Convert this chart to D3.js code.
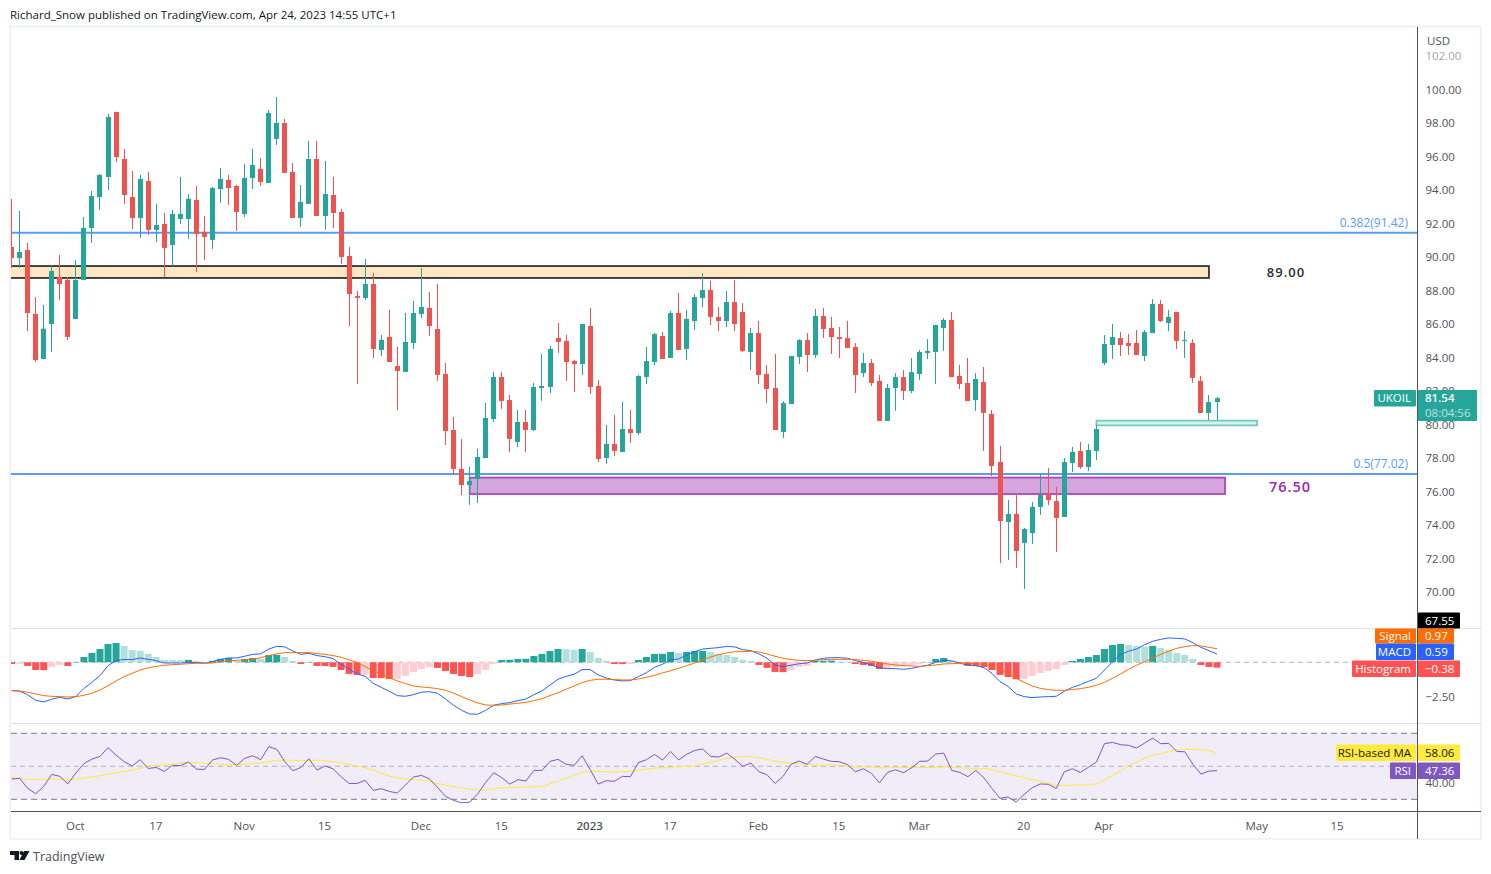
<!DOCTYPE html>
<html>
<head>
<meta charset="utf-8">
<script src="https://cdnjs.cloudflare.com/ajax/libs/d3/7.8.5/d3.min.js"></script>
<style>
  body { margin: 0; background: #fff; }
  text { font-family: "Open Sans", sans-serif; }
  .domain { display: none; }
</style>
</head>
<body>
<div id="chart"></div>
<script>
// daily candles
const opens = [90.57,89.91,90.39,86.57,83.88,85.97,88.78,88.60,86.27,88.60,91.70,93.55,94.75,98.63,95.82,93.55,92.30,94.51,91.59,91.94,
  90.69,92.24,92.24,93.38,91.47,90.99,94.03,94.57,94.21,92.54,94.69,95.23,94.39,97.02,97.97,95.05,92.30,93.14,95.82,92.42,
  93.67,92.66,90.03,87.64,87.52,88.36,84.42,85.20,83.46,83.11,84.84,86.57,86.93,85.67,82.99,79.64,77.32,76.36,76.72,77.97,
  80.30,82.81,81.43,78.93,80.12,79.64,82.15,82.21,85.14,84.96,83.76,83.58,85.85,82.27,77.97,78.81,78.33,79.70,79.46,82.81,
  83.70,85.26,83.94,86.63,84.48,86.15,87.52,88.00,86.39,86.15,87.28,86.69,84.30,85.43,82.98,82.15,79.52,81.19,84.00,85.01,
  84.12,86.45,85.73,85.19,85.13,84.60,83.04,83.64,82.57,80.18,82.15,82.80,81.97,82.98,84.24,84.30,85.73,86.21,82.87,82.45,
  81.43,82.51,80.60,77.73,74.15,74.63,72.90,73.49,75.05,75.82,75.40,74.45,77.67,78.39,77.43,78.39,83.64,84.72,85.13,84.84,
  84.84,84.06,85.43,87.16,86.03,86.69,84.96,84.84,82.57,80.66,81.31];
const highs = [93.44,92.72,90.81,87.58,87.11,89.44,90.09,88.78,89.79,92.36,93.91,94.93,98.51,98.63,96.42,95.11,94.87,95.05,93.14,92.60,
  92.78,94.75,93.73,94.21,92.42,94.15,95.29,94.87,94.27,95.53,96.42,95.88,98.75,99.52,98.21,95.58,94.27,96.90,96.90,95.70,
  94.75,92.84,90.57,87.94,89.85,89.02,85.32,86.81,84.60,86.63,87.35,89.32,87.88,88.36,83.64,80.42,79.11,77.44,78.51,81.26,
  83.11,83.11,81.73,80.84,80.84,82.45,84.18,84.66,86.03,85.32,83.82,85.97,86.93,82.63,79.94,80.54,81.32,80.84,82.93,84.60,
  85.43,85.49,86.75,87.82,86.81,87.76,89.01,88.54,86.98,87.94,88.60,87.22,85.73,86.15,83.52,84.18,81.37,84.06,85.07,85.43,
  86.87,86.92,86.39,85.79,86.15,84.83,84.24,83.88,82.92,82.39,83.04,83.22,83.94,84.42,85.07,85.91,86.33,86.69,83.52,83.94,
  83.04,83.40,80.84,78.69,75.46,75.88,73.79,75.34,77.07,77.37,76.24,77.97,78.63,78.93,78.81,79.94,85.31,85.97,85.49,85.37,
  85.61,85.61,87.46,87.40,86.81,86.69,85.55,85.07,82.87,81.73,81.61];
const lows = [89.32,89.32,85.55,83.70,83.88,84.30,87.41,85.02,86.27,88.60,90.81,92.78,93.97,95.64,93.14,91.64,91.11,91.29,90.87,88.78,
  89.44,91.94,91.05,89.08,89.79,90.45,93.20,93.08,91.53,92.36,94.03,94.21,94.39,96.66,94.99,92.30,91.76,93.14,92.42,91.59,
  91.70,89.55,85.85,82.39,87.40,83.94,84.06,83.70,80.84,83.11,84.48,86.33,85.26,82.57,78.75,76.96,75.76,75.17,75.29,77.97,
  80.12,80.90,78.33,78.63,78.33,79.58,81.38,81.85,84.24,82.57,81.91,82.93,81.79,77.73,77.61,78.09,78.33,78.87,79.34,82.39,
  83.52,83.88,83.94,84.42,83.82,85.61,86.98,85.91,85.55,85.79,85.55,84.30,83.22,82.39,81.25,79.64,79.16,81.19,83.58,83.10,
  83.94,85.13,84.18,83.94,84.54,81.85,82.80,82.27,80.18,80.18,80.78,81.43,81.85,82.63,83.88,82.39,84.36,82.80,82.09,81.37,
  80.78,78.39,76.90,71.70,71.88,71.40,70.15,72.84,74.57,75.16,72.36,74.45,77.13,77.31,77.19,77.85,83.52,83.88,84.06,84.12,
  84.12,83.76,85.43,86.09,85.55,84.48,83.94,82.45,80.66,80.24,80.24];
const closes = [89.91,90.27,86.63,83.82,85.69,89.14,88.36,85.20,88.60,91.70,93.61,94.87,98.33,95.94,93.67,92.30,94.63,91.59,91.88,90.51,
  92.54,92.54,93.44,91.35,91.17,94.09,94.63,94.09,92.66,94.69,95.47,94.45,98.57,97.97,94.99,92.30,93.26,95.82,92.42,93.73,
  92.60,89.97,87.76,87.53,88.36,84.48,85.02,83.70,83.17,84.90,86.63,86.99,85.85,82.93,79.58,77.32,76.36,76.60,78.03,80.36,
  82.81,81.38,79.11,80.12,79.64,82.21,82.27,84.48,84.90,83.70,83.58,85.97,82.21,77.91,78.81,78.39,79.70,79.46,82.87,83.76,
  85.37,83.88,86.63,84.42,86.27,87.58,88.00,86.39,86.15,87.28,85.97,84.36,85.43,82.92,82.09,79.64,81.25,84.06,85.01,84.12,
  86.45,85.67,85.19,85.07,84.54,82.92,83.64,82.45,80.18,82.15,82.80,81.97,83.10,84.30,84.36,85.91,86.21,82.80,82.39,81.37,
  82.69,80.66,77.49,74.21,74.63,72.42,73.73,75.05,75.76,75.46,74.39,77.73,78.33,77.43,78.45,79.70,84.78,85.19,84.72,84.66,
  84.12,85.49,87.16,86.15,86.39,84.96,85.01,82.75,80.66,81.31,81.54];

// MACD pane
const histogram = [-.12,-.11,-.26,-.55,-.56,-.33,-.19,-.26,.02,.38,.67,.95,1.31,1.38,1.17,.88,.81,.60,.38,.17,
  .16,.15,.17,.10,.03,.10,.24,.31,.10,.24,.31,.24,.52,.53,.38,.10,-.12,.02,-.26,-.27,
  -.33,-.55,-.83,-.90,-.89,-1.12,-1.13,-1.19,-1.18,-.98,-.69,-.48,-.33,-.40,-.62,-.83,-.98,-1.05,-.83,-.55,
  -.12,.17,.18,.24,.25,.45,.60,.81,.95,.94,.88,.95,.74,.31,.10,-.12,-.13,-.12,.17,.38,
  .60,.61,.74,.67,.74,.81,.82,.74,.60,.52,.38,.17,.10,-.19,-.40,-.69,-.70,-.55,-.33,-.26,
  .10,.11,.12,.05,.04,-.12,-.19,-.26,-.48,-.40,-.33,-.26,-.19,-.12,.02,.24,.31,.10,-.05,-.26,
  -.27,-.33,-.55,-.90,-1.05,-1.21,-1.19,-.98,-.76,-.62,-.48,-.19,.10,.24,.38,.52,.95,1.24,1.31,1.24,
  1.17,1.10,1.17,1.02,.88,.67,.52,.24,-.19,-.33,-.38];
const macd = [-2.02,-2.05,-2.33,-2.71,-2.83,-2.64,-2.50,-2.62,-2.45,-1.86,-1.43,-.95,-.24,.12,.21,.19,.31,.21,.12,-.05,
  -.05,-.05,-.02,-.02,-.07,.05,.21,.31,.31,.43,.57,.60,.95,1.14,1.10,.81,.57,.64,.48,.40,
  .26,-.14,-.48,-.83,-1.00,-1.50,-1.79,-2.07,-2.38,-2.43,-2.31,-2.14,-2.10,-2.21,-2.62,-3.07,-3.43,-3.69,-3.71,-3.43,
  -3.07,-2.95,-2.88,-2.74,-2.62,-2.31,-2.05,-1.62,-1.21,-1.00,-.86,-.52,-.52,-.90,-1.12,-1.26,-1.33,-1.31,-1.02,-.74,
  -.36,-.14,.17,.24,.52,.76,.95,1.00,1.05,1.14,1.10,.90,.83,.60,.29,-.19,-.31,-.21,-.10,-.05,
  .17,.29,.33,.33,.29,.12,0,-.19,-.40,-.45,-.45,-.50,-.43,-.31,-.21,0,.17,.10,-.07,-.19,
  -.24,-.38,-.79,-1.38,-1.71,-2.26,-2.45,-2.52,-2.48,-2.45,-2.43,-2.07,-1.79,-1.60,-1.36,-1.14,-.55,.05,.55,.79,
  .95,1.26,1.50,1.64,1.74,1.71,1.67,1.40,1.07,.83,.59];
const signal = [-2.02,-2.05,-2.14,-2.26,-2.38,-2.43,-2.45,-2.48,-2.45,-2.36,-2.21,-1.98,-1.67,-1.33,-1.02,-.79,-.55,-.40,-.29,-.21,
  -.17,-.14,-.10,-.07,-.07,-.05,.05,.10,.14,.17,.21,.33,.48,.60,.69,.69,.69,.69,.62,.57,
  .48,.36,.17,-.02,-.31,-.60,-.86,-1.10,-1.33,-1.52,-1.69,-1.76,-1.81,-1.88,-2.00,-2.21,-2.45,-2.69,-2.90,-3.05,
  -3.07,-3.05,-2.98,-2.93,-2.86,-2.74,-2.60,-2.38,-2.17,-1.93,-1.69,-1.45,-1.29,-1.21,-1.21,-1.24,-1.26,-1.26,-1.19,-1.07,
  -.93,-.76,-.60,-.43,-.24,-.05,.19,.38,.55,.67,.76,.76,.79,.74,.60,.43,.29,.19,.14,.12,
  .14,.19,.21,.21,.21,.19,.14,.07,-.02,-.12,-.19,-.24,-.26,-.29,-.24,-.19,-.12,-.10,-.07,-.07,
  -.10,-.14,-.31,-.50,-.79,-1.14,-1.43,-1.69,-1.86,-1.95,-2.00,-2.00,-1.95,-1.88,-1.79,-1.64,-1.43,-1.14,-.83,-.50,
  -.21,.05,.31,.57,.79,1.00,1.12,1.19,1.17,1.07,.97];

// RSI pane
const rsi = [42.3,42.7,36.6,33.4,37.8,45.1,43.9,39.4,45.9,51.6,54.4,56.0,61.3,56.8,52.8,50.2,54.0,48.7,49.3,46.9,
  50.6,50.4,52.6,48.3,48.1,53.8,55.2,54.2,50.6,54.8,56.4,54.0,61.9,60.3,52.8,47.3,49.3,54.6,47.7,50.2,
  48.5,43.7,39.6,39.6,41.5,35.4,36.4,34.8,33.8,38.6,43.5,44.5,42.3,37.2,31.8,29.3,27.9,28.3,33.2,40.3,
  46.1,43.1,39.2,41.9,41.1,47.5,47.5,53.0,54.2,51.2,50.6,56.4,47.9,39.2,41.3,40.9,43.9,43.7,52.2,54.0,
  57.2,53.8,59.0,53.8,57.2,59.6,60.5,56.0,55.6,58.0,54.2,50.0,52.0,46.7,44.9,39.6,43.9,51.2,53.2,51.2,
  56.0,54.4,53.0,52.8,51.0,46.7,48.5,45.7,40.0,46.3,47.9,46.1,49.1,53.0,53.2,57.4,58.0,47.5,46.3,43.7,
  47.5,42.9,36.6,30.6,31.4,28.3,33.0,37.0,39.3,39.1,36.6,46.7,48.5,46.3,49.4,52.6,63.7,64.5,63.1,62.7,
  61.1,64.1,67.1,63.7,63.9,59.0,58.8,51.2,45.3,47.1,47.36];
const rsiMa = [43.3,42.7,42.1,42.1,42.1,42.3,42.3,42.1,42.1,42.9,43.5,44.3,45.3,46.1,46.9,47.5,48.7,50.2,50.6,50.8,
  51.4,52.0,52.4,52.4,51.8,51.6,51.2,50.8,50.8,51.2,51.6,52.0,52.8,53.6,53.8,53.6,53.4,53.6,53.6,53.4,
  52.8,52.0,51.2,50.0,49.1,47.7,45.7,44.1,43.1,42.5,41.9,41.5,40.9,39.6,38.6,37.8,37.0,36.2,35.6,35.6,
  36.2,37.0,37.2,37.4,37.4,37.6,37.8,39.4,41.1,42.7,44.5,46.3,47.1,46.9,46.7,46.5,46.7,46.9,47.5,48.3,
  48.9,49.1,49.3,49.7,50.0,50.2,51.4,52.4,53.6,54.8,55.6,55.8,55.8,55.2,54.2,53.2,52.4,52.0,51.6,51.2,
  51.0,50.8,50.8,50.6,50.0,49.5,49.7,49.5,49.1,49.1,49.3,49.3,49.3,49.3,49.3,49.3,49.5,49.5,49.1,48.9,
  48.5,48.5,48.1,46.7,45.5,44.3,43.1,41.9,40.9,39.7,38.4,38.4,38.6,38.6,38.8,39.4,41.7,44.3,47.3,50.2,
  52.6,54.8,56.8,57.6,58.9,59.9,60.3,60.3,60.1,59.5,58.06];

// axis ticks
const priceTicks = d3.range(70, 104, 2);
const timeTickBars = [8, 18, 29, 39, 51, 61, 72, 82, 93, 103, 113, 126, 136, 155, 165];
const timeTickLabels = ["Oct", "17", "Nov", "15", "Dec", "15", "2023", "17", "Feb", "15", "Mar", "20", "Apr", "May", "15"];

// drawn levels: price and the bars they span
const fibLevels = [91.42, 77.02];
const fibLabels = ["0.382(91.42)", "0.5(77.02)"];
const zoneTops = [89.43, 76.80, 80.20];
const zoneBottoms = [88.72, 75.82, 79.92];
const zoneStarts = [-1, 57, 135];
const zoneEnds = [149, 151, 155];
const zoneFills = ["#ffe6c2", "#d5a6de", "#cdf5f3"];
const zoneStrokes = ["#333333", "#ab47bc", "#7bc9bd"];

const width = 1491, height = 874;
const paneLeft = 11, paneRight = 1417.5, frameRight = 1481;
const paneTop = 27, macdTop = 628.5, rsiTop = 723.5, axisY = 811.5, paneBottom = 839;
const tickFont = 11.5;

const up = "#26a69a", down = "#ef5350";

const svg = d3.select("#chart")
  .append("svg")
  .attr("width", width)
  .attr("height", height)
  .style("display", "block");

const x = d3.scaleLinear().domain([0, 150]).range([11.6, 1217]);
const y = d3.scaleLinear().domain([100, 70]).range([89, 591.5]);
const yMacd = d3.scaleLinear().domain([0, -2.5]).range([662.3, 697.3]);
const yRsi = d3.scaleLinear().domain([70, 30]).range([733.3, 799.3]);

svg.append("defs").append("clipPath").attr("id", "pane")
  .append("rect")
  .attr("x", paneLeft).attr("y", paneTop)
  .attr("width", paneRight - paneLeft).attr("height", paneBottom - paneTop);

// frame and pane dividers
svg.append("rect")
  .attr("x", 10).attr("y", 26.5)
  .attr("width", frameRight - 10).attr("height", paneBottom - 26.5)
  .attr("fill", "none").attr("stroke", "#f0f3fa").attr("stroke-width", 2);

[macdTop, rsiTop].forEach(d => {
  svg.append("line")
    .attr("x1", paneLeft).attr("x2", frameRight)
    .attr("y1", d).attr("y2", d)
    .attr("stroke", "#e0e3eb").attr("stroke-width", 1);
});

const plot = svg.append("g").attr("clip-path", "url(#pane)");

// RSI band
plot.append("rect")
  .attr("x", paneLeft).attr("y", yRsi(70))
  .attr("width", paneRight - paneLeft).attr("height", yRsi(30) - yRsi(70))
  .attr("fill", "#f0ecf8");

[70, 50, 30].forEach(d => {
  plot.append("line")
    .attr("x1", paneLeft).attr("x2", paneRight)
    .attr("y1", yRsi(d)).attr("y2", yRsi(d))
    .attr("stroke", d === 50 ? "#b2b5be" : "#787b86")
    .attr("stroke-dasharray", d === 50 ? "5 4" : "6 4");
});

plot.append("line")
  .attr("x1", paneLeft).attr("x2", paneRight)
  .attr("y1", yMacd(0)).attr("y2", yMacd(0))
  .attr("stroke", "#b2b5be").attr("stroke-dasharray", "5 4");

// zones
plot.selectAll(".zone")
  .data(zoneTops)
  .enter()
  .append("rect")
  .attr("class", "zone")
  .attr("x", (d, i) => x(zoneStarts[i]))
  .attr("y", d => y(d))
  .attr("width", (d, i) => x(zoneEnds[i]) - x(zoneStarts[i]))
  .attr("height", (d, i) => y(zoneBottoms[i]) - y(d))
  .attr("fill", (d, i) => zoneFills[i])
  .attr("stroke", (d, i) => zoneStrokes[i])
  .attr("stroke-width", 1.8);

// fib lines
plot.selectAll(".fib")
  .data(fibLevels)
  .enter()
  .append("line")
  .attr("class", "fib")
  .attr("x1", paneLeft).attr("x2", paneRight)
  .attr("y1", d => y(d)).attr("y2", d => y(d))
  .attr("stroke", "#5b9cf6").attr("stroke-width", 2);

svg.selectAll(".fibLabel")
  .data(fibLabels)
  .enter()
  .append("text")
  .attr("class", "fibLabel")
  .attr("x", 1408)
  .attr("y", (d, i) => y(fibLevels[i]) - 6)
  .attr("text-anchor", "end")
  .attr("font-size", 12)
  .attr("fill", "#5b9cf6")
  .text(d => d);

// candles
const candleColor = i => closes[i] >= opens[i] ? up : down;

plot.selectAll(".wick")
  .data(highs)
  .enter()
  .append("line")
  .attr("class", "wick")
  .attr("x1", (d, i) => Math.floor(x(i)) + 0.5)
  .attr("x2", (d, i) => Math.floor(x(i)) + 0.5)
  .attr("y1", d => y(d))
  .attr("y2", (d, i) => y(lows[i]))
  .attr("stroke", (d, i) => candleColor(i));

plot.selectAll(".body")
  .data(opens)
  .enter()
  .append("rect")
  .attr("class", "body")
  .attr("x", (d, i) => Math.floor(x(i)) - 2)
  .attr("y", (d, i) => y(Math.max(d, closes[i])))
  .attr("width", 5)
  .attr("height", (d, i) => Math.max(1, Math.abs(y(d) - y(closes[i]))))
  .attr("fill", (d, i) => candleColor(i));

// MACD histogram
function histColor(d, i) {
  const rising = i === 0 ? false : d > histogram[i - 1];
  if (d >= 0) return rising ? up : "#b2dfdb";
  return rising ? "#ffcdd2" : "#ff5252";
}

plot.selectAll(".hist")
  .data(histogram)
  .enter()
  .append("rect")
  .attr("class", "hist")
  .attr("x", (d, i) => x(i) - 3.5)
  .attr("y", d => Math.min(yMacd(0), yMacd(d)))
  .attr("width", 7)
  .attr("height", d => Math.abs(yMacd(d) - yMacd(0)))
  .attr("fill", histColor);

function drawLine(values, scale, color) {
  plot.append("path")
    .attr("d", d3.line().x((d, i) => x(i)).y(d => scale(d))(values))
    .attr("fill", "none")
    .attr("stroke", color)
    .attr("stroke-width", 1);
}

drawLine(macd, yMacd, "#2962ff");
drawLine(signal, yMacd, "#ff6d00");
drawLine(rsiMa, yRsi, "#ffeb3b");
drawLine(rsi, yRsi, "#7e57c2");

// axes
const priceAxis = svg.append("g")
  .attr("transform", `translate(${paneRight},0.5)`)
  .call(d3.axisRight(y).tickValues(priceTicks).tickFormat(d3.format(".2f")).tickSize(0).tickPadding(8));
priceAxis.selectAll("text").attr("font-size", tickFont).attr("fill", d => d === 102 ? "#a3a6af" : "#50535e");

svg.append("g")
  .attr("transform", `translate(${paneRight},0)`)
  .call(d3.axisRight(yMacd).tickValues([-2.5]).tickFormat(d3.format(".2f")).tickSize(0).tickPadding(8))
  .selectAll("text").attr("font-size", tickFont).attr("fill", "#50535e");

svg.append("g")
  .attr("transform", `translate(${paneRight},0)`)
  .call(d3.axisRight(yRsi).tickValues([40]).tickFormat(d3.format(".2f")).tickSize(0).tickPadding(8))
  .selectAll("text").attr("font-size", tickFont).attr("fill", "#50535e");

const timeAxis = svg.append("g")
  .attr("transform", `translate(0,${axisY})`)
  .call(d3.axisBottom(x).tickValues(timeTickBars).tickFormat((d, i) => timeTickLabels[i]).tickSize(0).tickPadding(10));
timeAxis.selectAll("text")
  .attr("dx", -1)
  .attr("font-size", tickFont)
  .attr("font-weight", (d, i) => timeTickLabels[i] === "2023" ? 600 : 400)
  .attr("fill", "#50535e");

svg.append("line")
  .attr("x1", paneRight).attr("x2", paneRight)
  .attr("y1", paneTop).attr("y2", paneBottom)
  .attr("stroke", "#50535e");
svg.append("line")
  .attr("x1", paneLeft).attr("x2", frameRight)
  .attr("y1", axisY).attr("y2", axisY)
  .attr("stroke", "#50535e");

// price tags on the scale
function tag(label, value, tagY, tagH, tagX, valueW, fill, textFill) {
  if (label) {
    svg.append("rect")
      .attr("x", tagX).attr("y", tagY)
      .attr("width", 1416 - tagX).attr("height", tagH)
      .attr("rx", 1)
      .attr("fill", fill);
    svg.append("text")
      .attr("x", 1411).attr("y", tagY + tagH / 2 + 4)
      .attr("text-anchor", "end")
      .attr("font-size", tickFont)
      .attr("fill", textFill)
      .text(label);
  }
  svg.append("rect")
    .attr("x", 1418).attr("y", tagY)
    .attr("width", valueW).attr("height", tagH)
    .attr("rx", 1)
    .attr("fill", fill);
  svg.append("text")
    .attr("x", 1425).attr("y", tagY + tagH / 2 + 4)
    .attr("font-size", tickFont)
    .attr("fill", textFill)
    .text(value);
}

tag("", "67.55", 612.5, 16, 0, 42, "#000", "#fff");
tag("Signal", "0.97", 628.5, 15, 1375, 36, "#ff6d00", "#fff");
tag("MACD", "0.59", 643.5, 16.5, 1376, 36, "#2962ff", "#fff");
tag("Histogram", "\u22120.38", 660.5, 16.5, 1352, 42, "#ff5252", "#fff");
tag("RSI-based MA", "58.06", 744.5, 16.5, 1336, 42, "#ffeb3b", "#131722");
tag("RSI", "47.36", 762.5, 16.5, 1390, 42, "#7e57c2", "#fff");

tag("UKOIL", "", 390, 16.5, 1374, 59, up, "#fff");
svg.append("rect")
  .attr("x", 1418).attr("y", 390)
  .attr("width", 59).attr("height", 31)
  .attr("rx", 1)
  .attr("fill", up);
svg.append("text")
  .attr("x", 1425).attr("y", 402)
  .attr("font-size", tickFont).attr("font-weight", 600).attr("fill", "#fff")
  .text("81.54");
svg.append("text")
  .attr("x", 1425).attr("y", 416.5)
  .attr("font-size", tickFont).attr("fill", "#fff").attr("fill-opacity", 0.7)
  .text("08:04:56");

// annotations
svg.append("text")
  .attr("x", 1286).attr("y", 276.5)
  .attr("text-anchor", "middle")
  .attr("font-size", 13).attr("font-weight", 600).attr("letter-spacing", 1)
  .attr("fill", "#2a2e39")
  .text("89.00");
svg.append("text")
  .attr("x", 1290).attr("y", 492)
  .attr("text-anchor", "middle")
  .attr("font-size", 14.5).attr("font-weight", 600).attr("letter-spacing", 1)
  .attr("fill", "#9c27b0")
  .text("76.50");

svg.append("text")
  .attr("x", 1427).attr("y", 45)
  .attr("font-size", tickFont).attr("fill", "#50535e")
  .text("USD");

svg.append("text")
  .attr("x", 10).attr("y", 18.5)
  .attr("font-size", 11.5).attr("fill", "#131722")
  .text("Richard_Snow published on TradingView.com, Apr 24, 2023 14:55 UTC+1");

// footer logo
const logo = svg.append("g").attr("transform", "translate(10,851)").attr("fill", "#131722");
logo.append("path").attr("d", "M0 0H9V9H4.5V4H0Z");
logo.append("circle").attr("cx", 11.5).attr("cy", 2).attr("r", 2);
logo.append("path").attr("d", "M14 0H19.5L14.5 9H9.5Z");
svg.append("text")
  .attr("x", 33).attr("y", 861)
  .attr("font-size", 12.5).attr("fill", "#4a4e59")
  .text("TradingView");
</script>
</body>
</html>
